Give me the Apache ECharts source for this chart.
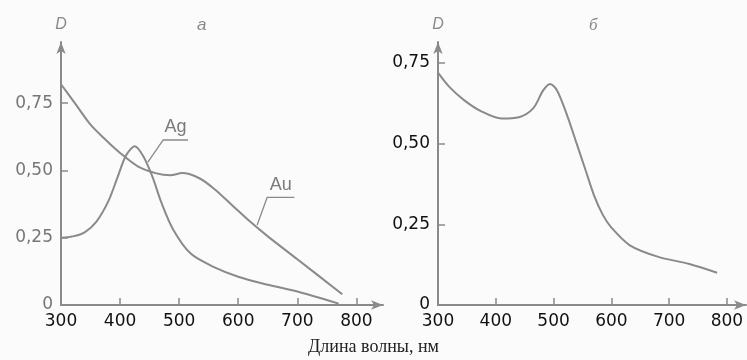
<!DOCTYPE html>
<html><head><meta charset="utf-8">
<script src="https://cdn.jsdelivr.net/npm/echarts@6/dist/echarts.min.js"></script>
<style>html,body{margin:0;padding:0;background:#fbfbfb}#c{width:747px;height:360px}</style>
</head><body><div id="c"></div>
<script>
// Left panel (a): Ag and Au
const agData = [[300,0.25],[320,0.255],[340,0.27],[360,0.31],[380,0.385],[395,0.47],[410,0.555],[425,0.59],[440,0.55],[455,0.475],[470,0.38],[490,0.28],[520,0.19],[560,0.14],[600,0.105],[650,0.075],[700,0.05],[770,0.005]];
const auData = [[300,0.82],[325,0.745],[350,0.67],[375,0.615],[400,0.565],[430,0.515],[460,0.49],[485,0.482],[505,0.49],[535,0.47],[560,0.43],[590,0.37],[620,0.31],[650,0.255],[700,0.17],[776,0.04]];
// Right panel (б)
const bData = [[300,0.72],[320,0.675],[345,0.635],[375,0.6],[410,0.578],[440,0.582],[465,0.61],[482,0.665],[494,0.685],[506,0.665],[523,0.59],[540,0.50],[555,0.42],[570,0.34],[585,0.28],[600,0.24],[632,0.185],[680,0.15],[735,0.127],[783,0.1]];
// Annotation leaders (data units)
const agLeader = [[447,0.531],[473,0.613],[515,0.613]];
const auLeader = [[632,0.297],[649,0.40],[695,0.40]];
const xTicks = [300,400,500,600,700,800];
const yTicks = [0,0.25,0.5,0.75];

const gray = '#8a8a8a';
const tickFont = 'DejaVu Sans, Liberation Sans, Arial';
const fmtY = v => v === 0 ? '0' : v.toFixed(2).replace('.', ',');

function xAxis(gi, max) {
  return {
    type:'value', gridIndex:gi, min:300, max:max,
    axisLine:{show:true, lineStyle:{color:gray, width:2}, symbol:['none','arrow'], symbolSize:[7,12]},
    axisTick:{show:true, inside:true, length:7, lineStyle:{color:gray, width:1.5}, customValues:xTicks},
    axisLabel:{customValues:xTicks, color:'#111', fontSize:17, fontFamily:tickFont, margin:8},
    splitLine:{show:false}
  };
}
function yAxis(gi, max, labelColor) {
  return {
    type:'value', gridIndex:gi, min:0, max:max,
    name:'D', nameLocation:'end', nameGap:9,
    nameTextStyle:{fontStyle:'italic', color:gray, fontSize:16, fontFamily:'Liberation Sans, Arial', align:'center'},
    axisLine:{show:true, lineStyle:{color:gray, width:2}, symbol:['none','arrow'], symbolSize:[7,12]},
    axisTick:{show:true, inside:true, length:7, lineStyle:{color:gray, width:1.5}, customValues:yTicks},
    axisLabel:{customValues:yTicks, formatter:fmtY, color:labelColor, fontSize:17, fontFamily:tickFont, margin:8},
    splitLine:{show:false}
  };
}
const lineStyle = {color:gray, width:2};
function tag(text, coord) {
  return {symbol:'circle', symbolSize:1, itemStyle:{color:'rgba(0,0,0,0)'},
    data:[{coord:coord, label:{show:true, formatter:text, position:'top', distance:3, color:'#7a7a7a', fontSize:18, fontFamily:'Liberation Sans, Arial'}}]};
}
const chart = echarts.init(document.getElementById('c'), null, {renderer:'canvas'});
chart.setOption({
  backgroundColor:'#fbfbfb',
  animation:false,
  title:[
    {text:'a', left:192, top:12, textStyle:{fontStyle:'italic', fontWeight:'normal', color:gray, fontSize:17, fontFamily:'Liberation Sans, Arial'}},
    {text:'б', left:584, top:12, textStyle:{fontStyle:'italic', fontWeight:'normal', color:gray, fontSize:17, fontFamily:'Liberation Serif, serif'}},
    {text:'Длина волны, нм', left:'center', top:333, textStyle:{fontWeight:'normal', color:'#222', fontSize:18, fontFamily:'Liberation Serif, Times New Roman, serif'}}
  ],
  grid:[
    {left:61, top:42, width:322, height:263},
    {left:438, top:42, width:308, height:263}
  ],
  xAxis:[xAxis(0,845), xAxis(1,833)],
  yAxis:[yAxis(0,0.977,'#777'), yAxis(1,0.815,'#111')],
  series:[
    {type:'line', xAxisIndex:0, yAxisIndex:0, data:agData, smooth:0.3, showSymbol:false, lineStyle},
    {type:'line', xAxisIndex:0, yAxisIndex:0, data:auData, smooth:0.3, showSymbol:false, lineStyle},
    {type:'line', xAxisIndex:1, yAxisIndex:1, data:bData, smooth:0.3, showSymbol:false, lineStyle},
    {type:'line', xAxisIndex:0, yAxisIndex:0, data:agLeader, showSymbol:false, lineStyle:{color:gray, width:1.3}, markPoint:tag('Ag',[494,0.613])},
    {type:'line', xAxisIndex:0, yAxisIndex:0, data:auLeader, showSymbol:false, lineStyle:{color:gray, width:1.3}, markPoint:tag('Au',[672,0.40])}
  ]
});
</script></body></html>
